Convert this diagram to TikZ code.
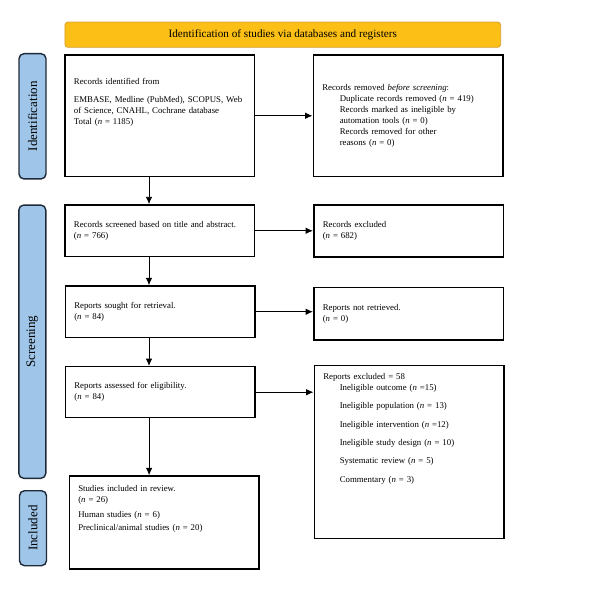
\documentclass[tikz,border=0pt]{standalone}
\usepackage{xcolor}
\usepackage{fontspec}
\setmainfont{Liberation Serif}
\usepackage{tikz}
\usetikzlibrary{positioning,arrows.meta}

\definecolor{bannerfill}{HTML}{FBBF16}
\definecolor{bannerline}{HTML}{D9A032}
\definecolor{sidefill}{HTML}{9FC5E8}
\definecolor{sideline}{HTML}{1E2A38}

\newcommand{\nv}{\textit{n}}

\begin{document}
\begin{tikzpicture}[x=1pt,y=-1pt,
  box/.style={draw,line width=1.5pt,rectangle,align=left,text width=171.5pt,inner xsep=9pt,font=\fontsize{8.8}{11}\selectfont},
  sidebar/.style={draw=sideline,fill=sidefill,line width=1.4pt,rounded corners=5pt,rotate=90,minimum height=27pt,inner sep=0pt,font=\fontsize{13}{15}\selectfont},
  arr/.style={-{Latex[length=2.6mm,width=2.3mm]},line width=0.9pt}]
\useasboundingbox (0,0) rectangle (600,591);

\node[fill=bannerfill,draw=bannerline,line width=0.8pt,rounded corners=3pt,minimum width=435.7pt,minimum height=25.3pt,font=\fontsize{11.2}{13}\selectfont] (banner) at (282.8,34.7) {Identification of studies via databases and registers};

\node[sidebar,minimum width=125.3pt] (sideid) at (32.5,116.3) {Identification};
\node[sidebar,minimum width=273.3pt] (sidescr) at (32.3,341.7) {Screening};
\node[sidebar,minimum width=75pt] (sideinc) at (33,528.2) {Included};

\node[box,inner ysep=0pt,text height=30pt,text depth=91.7pt] (ident) at (159.7,115.8) {Records identified from\\[7pt]
EMBASE, Medline (PubMed), SCOPUS, Web of Science, CNAHL, Cochrane database\\
Total (\nv{} = 1185)};
\node[box,minimum height=121.7pt] (removed) at (408,115.8) {Records removed \textit{before screening}:\\
\hspace*{17.5pt}Duplicate records removed (\nv{} = 419)\\
\hspace*{17.5pt}Records marked as ineligible by\\
\hspace*{17.5pt}automation tools (\nv{} = 0)\\
\hspace*{17.5pt}Records removed for other\\
\hspace*{17.5pt}reasons (\nv{} = 0)};

\node[box,minimum height=51.7pt] (screened) at (159.7,230.8) {Records screened based on title and abstract.\\(\nv{} = 766)};
\node[box,minimum height=52pt] (excluded) at (408.5,231) {Records excluded\\(\nv{} = 682)};

\node[box,minimum height=51.3pt] (sought) at (160,311.7) {Reports sought for retrieval.\\(\nv{} = 84)};
\node[box,minimum height=52.3pt] (notretr) at (408.5,313.8) {Reports not retrieved.\\(\nv{} = 0)};

\node[box,minimum height=51pt] (assessed) at (160.1,392.2) {Reports assessed for eligibility.\\(\nv{} = 84)};
\node[box,inner ysep=0pt,text height=13.8pt,text depth=158.8pt] (repexcl) at (409,452) {Reports excluded = 58\\
\hspace*{16.5pt}Ineligible outcome (\nv{} =15)\\[7.3pt]
\hspace*{16.5pt}Ineligible population (\nv{} = 13)\\[7.3pt]
\hspace*{16.5pt}Ineligible intervention (\nv{} =12)\\[7.3pt]
\hspace*{16.5pt}Ineligible study design (\nv{} = 10)\\[7.3pt]
\hspace*{16.5pt}Systematic review (\nv{} = 5)\\[7.3pt]
\hspace*{16.5pt}Commentary (\nv{} = 3)};

\node[box,inner ysep=0pt,text height=15pt,text depth=78pt] (included) at (164,522.5) {Studies included in review.\\
(\nv{} = 26)\\[4pt]
Human studies (\nv{} = 6)\\[2.5pt]
Preclinical/animal studies (\nv{} = 20)};

\draw[arr] ([xshift=-10.7pt]ident.south) -- ([xshift=-10.7pt]screened.north);
\draw[arr] ([xshift=-10.7pt]screened.south) -- ([xshift=-10.7pt]screened.south |- sought.north);
\draw[arr] ([xshift=-11pt]sought.south) -- ([xshift=-11pt]sought.south |- assessed.north);
\draw[arr] ([xshift=-11pt]assessed.south) -- ([xshift=-11pt]assessed.south |- included.north);

\draw[arr] (ident.east) -- (removed.west);
\draw[arr] (screened.east) -- (screened.east -| excluded.west);
\draw[arr] (sought.east) -- (sought.east -| notretr.west);
\draw[arr] (assessed.east) -- (assessed.east -| repexcl.west);

\end{tikzpicture}
\end{document}
